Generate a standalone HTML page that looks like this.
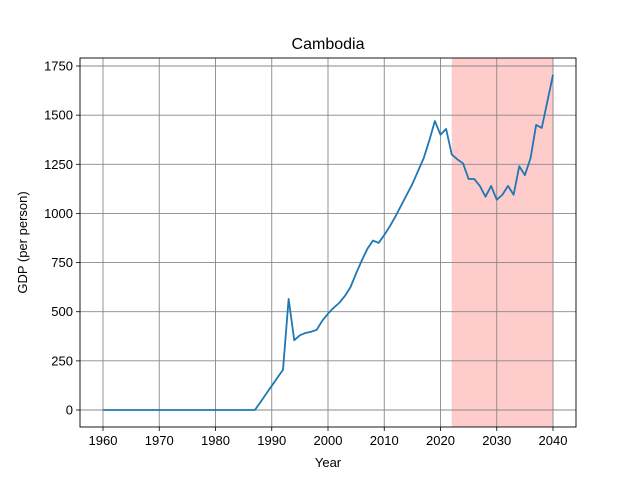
<!DOCTYPE html>
<html><head><meta charset="utf-8"><style>body{margin:0;background:#fff}svg{display:block;font-family:"Liberation Sans","DejaVu Sans",sans-serif}</style></head>
<body>
<svg id="chart" width="640" height="480">
<rect width="640" height="480" fill="#fff"/>
<g id="plot"></g>
</svg>
<script>
const years=[];for(let y=1960;y<=2040;y++)years.push(y);
const gdp=[0,0,0,0,0,0,0,0,0,0,0,0,0,0,0,0,0,0,0,0,0,0,0,0,0,0,0,0,
40,82,123,164,205,565,355,380,392,398,408,455,490,520,545,580,625,695,760,820,862,850,890,935,985,1040,1095,1150,1215,1280,1370,1470,1400,1430,
1300,1275,1255,1175,1175,1140,1085,1140,1070,1095,1140,1095,1240,1195,1280,1450,1435,1570,1705];
const xTicks=[1960,1970,1980,1990,2000,2010,2020,2030,2040];
const yTicks=[0,250,500,750,1000,1250,1500,1750];
const forecastRange=[2022,2040];
const L=80,R=576,T=58,B=427;
const xs=v=>103+(v-1960)*450/80;
const ys=v=>410-v*344/1750;
const NS='http://www.w3.org/2000/svg';
const g=document.getElementById('plot');
function mk(t,a,p){const e=document.createElementNS(NS,t);for(const k in a)e.setAttribute(k,a[k]);(p||g).appendChild(e);return e;}
const band=mk('rect',{x:xs(forecastRange[0]),y:T,width:xs(forecastRange[1])-xs(forecastRange[0]),height:B-T,fill:'#ffcccc'});


xTicks.forEach(v=>{const x=xs(v);
const gl=mk('line',{x1:x,x2:x,y1:T,y2:B,stroke:'#888','stroke-width':0.9});

mk('line',{x1:x,x2:x,y1:B,y2:B+4,stroke:'#000','stroke-width':0.8});
const t=mk('text',{x:x,y:B+18,'text-anchor':'middle','font-size':13,fill:'#000'});t.textContent=v;
});
yTicks.forEach(v=>{const y=ys(v);
const gl=mk('line',{x1:L,x2:R,y1:y,y2:y,stroke:'#888','stroke-width':0.9});

mk('line',{x1:L-4,x2:L,y1:y,y2:y,stroke:'#000','stroke-width':0.8});
const t=mk('text',{x:L-7,y:y+4.5,'text-anchor':'end','font-size':13,fill:'#000'});t.textContent=v;
});
const line=mk('polyline',{points:years.map((y,i)=>xs(y)+','+ys(gdp[i])).join(' '),fill:'none',stroke:'#1f77b4','stroke-width':1.8,'stroke-linejoin':'round'});

const fr=mk('rect',{x:L,y:T,width:R-L,height:B-T,fill:'none',stroke:'#000','stroke-width':0.9});

const ti=mk('text',{x:(L+R)/2,y:49,'text-anchor':'middle','font-size':16});ti.textContent='Cambodia';

const xl=mk('text',{x:(L+R)/2,y:467,'text-anchor':'middle','font-size':13});xl.textContent='Year';

const yl=mk('text',{x:27,y:(T+B)/2,'text-anchor':'middle','font-size':13,transform:'rotate(-90 27 '+((T+B)/2)+')'});yl.textContent='GDP (per person)';

</script>
</body></html>
